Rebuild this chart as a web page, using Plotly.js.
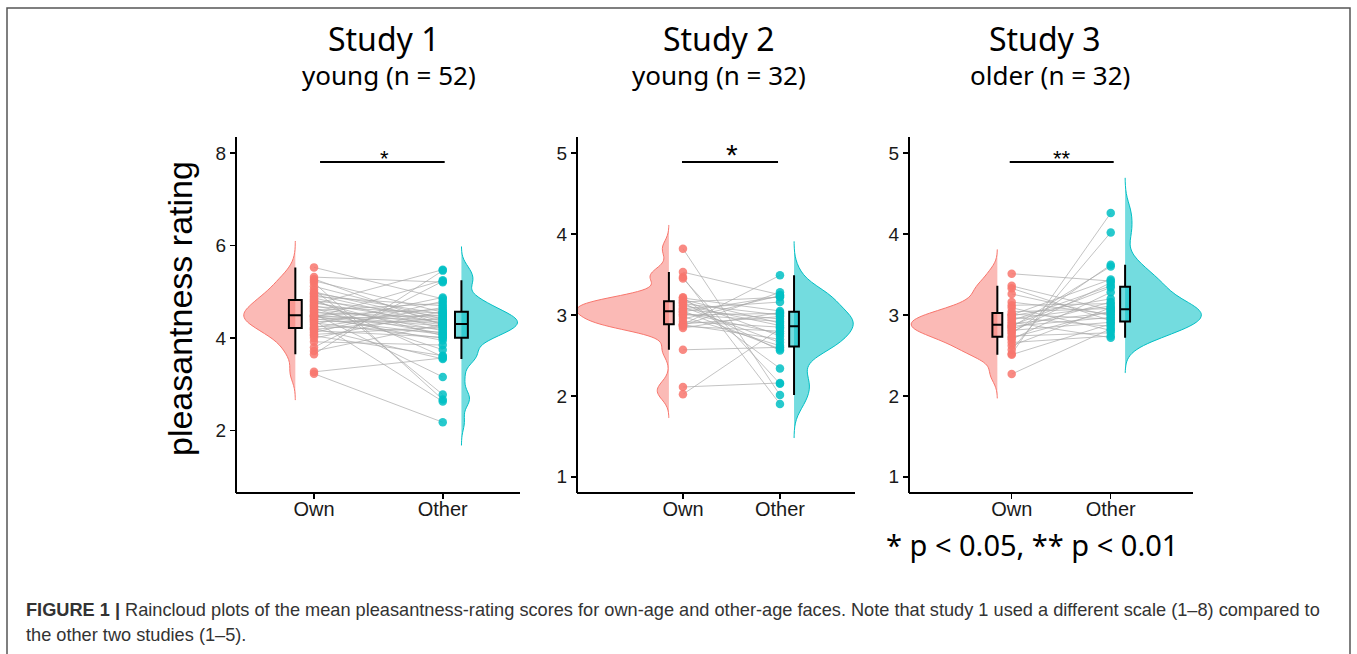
<!DOCTYPE html>
<html><head><meta charset="utf-8">
<script src="https://cdn.plot.ly/plotly-3.0.1.min.js"></script>
<style>html,body{margin:0;padding:0;background:#fff;}#chart{width:1357px;height:654px;}</style>
</head><body><div id="chart"></div>
<script>
// ---------- data ----------
const categories = ['Own', 'Other'];

const study1Own = [3.23,3.27,3.65,3.72,3.80,3.92,4.00,4.05,4.08,4.12,4.16,4.19,4.21,4.23,4.26,4.30,4.33,4.36,4.38,4.40,4.42,4.44,4.46,4.47,4.48,4.49,4.50,4.52,4.55,4.58,4.60,4.63,4.65,4.68,4.70,4.73,4.76,4.79,4.81,4.84,4.87,4.90,4.94,4.97,5.00,5.05,5.12,5.20,5.24,5.28,5.32,5.53];
const study1Other = [2.18,3.57,5.46,4.30,5.23,3.85,4.58,3.62,4.24,4.80,4.02,4.43,3.55,4.66,4.13,4.88,4.00,4.35,2.63,4.50,4.08,5.25,4.19,4.39,3.95,4.62,4.26,3.16,4.45,4.10,4.75,4.29,3.75,4.54,4.16,5.48,4.33,4.05,4.47,3.60,4.22,4.70,4.31,4.52,4.37,2.78,4.41,2.67,4.56,4.28,5.21,4.85];

const study2Own = [3.82,3.53,3.47,3.45,2.11,2.02,2.57,3.22,3.21,3.19,3.18,3.16,3.15,3.14,3.12,3.10,3.08,3.07,3.05,3.04,3.03,3.01,3.00,2.98,2.95,2.92,2.89,2.88,2.88,2.87,2.86,2.84];
const study2Other = [2.01,3.25,1.90,2.15,2.16,2.83,2.60,2.34,3.05,2.90,2.74,3.22,2.56,3.00,2.87,2.66,3.16,2.95,2.58,3.23,2.77,2.92,3.02,2.62,3.24,2.85,2.98,2.70,3.49,3.28,2.80,3.03];

const study3Own = [2.27,2.51,2.52,2.57,2.62,2.66,2.70,2.72,2.74,2.77,2.79,2.81,2.83,2.85,2.86,2.87,2.89,2.91,2.93,2.95,2.97,2.99,3.00,3.01,3.04,3.09,3.12,3.16,3.26,3.33,3.36,3.51];
const study3Other = [2.83,2.89,4.26,4.02,3.09,2.74,3.28,3.05,2.78,3.62,3.40,2.91,3.16,3.60,2.97,3.34,3.03,2.72,3.36,3.11,2.86,3.20,3.44,2.95,3.08,2.81,3.14,3.01,2.99,2.93,3.06,3.42];

const studyTitles = ['Study 1', 'Study 2', 'Study 3'];
const studySubtitles = ['young (n = 52)', 'young (n = 32)', 'older (n = 32)'];
const sigLabels = ['*', '*', '**'];
const yTicks1 = [2, 4, 6, 8];
const yTicks23 = [1, 2, 3, 4, 5];

// ---------- layout / style ----------
const W = 1357, H = 654;
const RED = '#F8766D', RED_FILL = 'rgba(248,118,109,0.5)';
const CYAN = '#00BFC4', CYAN_FILL = 'rgba(0,191,196,0.55)';
const OFF = 0.145;      // nudge of box/violin from the points
const BOXW = 0.1;
const Y_TOP = 137, Y_BOT = 493;

// px: [axis-line start, axis-line end, plotting-area end]
const panels = [
  {own: study1Own, other: study1Other, px: [237, 520, 524], xr: [0.402, 2.631], yr: [0.65, 8.35], yt: yTicks1,
   wOwn: 0.40, wOther: 0.435, bwOwn: 0.19, bwOther: 0.167,
   sig: {x0: 1.047, x1: 2.015, y: 7.81, tx: 384, ty: 158, size: 22},
   title: {x: 384, sx: 389}},
  {own: study2Own, other: study2Other, px: [578, 855, 860], xr: [-0.082, 2.825], yr: [0.8, 5.2], yt: yTicks23,
   wOwn: 0.95, wOther: 0.61, bwOwn: 0.097, bwOther: 0.14,
   sig: {x0: 0.99, x1: 1.98, y: 4.89, tx: 732, ty: 155, size: 30},
   title: {x: 719, sx: 719}},
  {own: study3Own, other: study3Other, px: [910, 1193, 1206], xr: [-0.027, 2.962], yr: [0.8, 5.2], yt: yTicks23,
   wOwn: 0.87, wOther: 0.77, bwOwn: 0.10, bwOther: 0.145,
   sig: {x0: 0.98, x1: 2.03, y: 4.89, tx: 1062, ty: 158, size: 22},
   title: {x: 1045, sx: 1050}}
];

const traces = [];
const layout = {
  width: W, height: H, margin: {l: 0, r: 0, t: 0, b: 0},
  paper_bgcolor: '#fff', plot_bgcolor: 'rgba(0,0,0,0)', showlegend: false,
  font: {family: 'Liberation Sans, Arial, sans-serif', color: '#1a1a1a'},
  violinmode: 'overlay', boxmode: 'overlay',
  shapes: [], annotations: []
};

panels.forEach((p, i) => {
  const n = i + 1;
  const xa = n === 1 ? 'x' : 'x' + n;
  const ya = n === 1 ? 'y' : 'y' + n;
  const ownPos = 1, otherPos = 2;
  const span = (d, bw) => [Math.min(...d) - 3 * bw, Math.max(...d) + 3 * bw];

  // half violins
  traces.push({type: 'violin', x0: ownPos - OFF, y: p.own, side: 'negative', width: 2 * p.wOwn,
    bandwidth: p.bwOwn, spanmode: 'manual', span: span(p.own, p.bwOwn), scalemode: 'width',
    line: {color: RED, width: 1}, fillcolor: RED_FILL, points: false,
    box: {visible: false}, meanline: {visible: false}, hoverinfo: 'skip', xaxis: xa, yaxis: ya});
  traces.push({type: 'violin', x0: otherPos + OFF, y: p.other, side: 'positive', width: 2 * p.wOther,
    bandwidth: p.bwOther, spanmode: 'manual', span: span(p.other, p.bwOther), scalemode: 'width',
    line: {color: CYAN, width: 1}, fillcolor: CYAN_FILL, points: false,
    box: {visible: false}, meanline: {visible: false}, hoverinfo: 'skip', xaxis: xa, yaxis: ya});

  // boxes
  [[p.own, ownPos - OFF, RED_FILL], [p.other, otherPos + OFF, CYAN_FILL]].forEach(([d, pos, fc]) => {
    traces.push({type: 'box', x0: pos, y: d, width: BOXW, fillcolor: fc,
      line: {color: '#000', width: 2}, whiskerwidth: 0, boxpoints: 'outliers',
      marker: {opacity: 0, size: 1}, hoverinfo: 'skip', xaxis: xa, yaxis: ya});
  });

  // paired lines
  const lx = [], ly = [];
  p.own.forEach((v, k) => { lx.push(ownPos, otherPos, null); ly.push(v, p.other[k], null); });
  traces.push({type: 'scatter', mode: 'lines', x: lx, y: ly, line: {color: 'rgba(170,170,170,0.7)', width: 1},
    hoverinfo: 'skip', xaxis: xa, yaxis: ya});

  // points
  traces.push({type: 'scatter', mode: 'markers', x: p.own.map(() => ownPos), y: p.own,
    marker: {color: RED, size: 8.5, opacity: 0.85}, hoverinfo: 'skip', xaxis: xa, yaxis: ya});
  traces.push({type: 'scatter', mode: 'markers', x: p.other.map(() => otherPos), y: p.other,
    marker: {color: CYAN, size: 8.5, opacity: 0.85}, hoverinfo: 'skip', xaxis: xa, yaxis: ya});

  const axCommon = {ticks: 'outside', ticklen: 5, tickwidth: 1.5, tickcolor: '#000',
    showgrid: false, zeroline: false, fixedrange: true};
  layout['xaxis' + (n === 1 ? '' : n)] = Object.assign({}, axCommon, {
    showline: false,
    domain: [p.px[0] / W, p.px[2] / W], range: p.xr, type: 'linear',
    tickvals: [ownPos, otherPos], ticktext: categories, anchor: ya,
    tickfont: {size: 20, color: '#1a1a1a'}, ticklabelstandoff: -7});
  layout['yaxis' + (n === 1 ? '' : n)] = Object.assign({}, axCommon, {
    showline: true, linecolor: '#000', linewidth: 2,
    domain: [1 - Y_BOT / H, 1 - Y_TOP / H], range: p.yr, tickvals: p.yt, anchor: xa,
    tickfont: {size: 19, color: '#1a1a1a'}, ticklabelstandoff: 0});

  // x axis line (ends before the plotting area so a violin may overhang, as in the reference)
  layout.shapes.push({type: 'line', xref: 'paper', yref: 'paper', x0: (p.px[0] - 1) / W, x1: p.px[1] / W,
    y0: 1 - Y_BOT / H, y1: 1 - Y_BOT / H, line: {color: '#000', width: 2}});

  // significance
  layout.shapes.push({type: 'line', xref: xa, yref: ya, x0: p.sig.x0, x1: p.sig.x1, y0: p.sig.y, y1: p.sig.y,
    line: {color: '#000', width: 2}});
  layout.annotations.push({xref: 'paper', yref: 'paper', x: p.sig.tx / W, y: 1 - p.sig.ty / H,
    text: sigLabels[i], showarrow: false, xanchor: 'center', yanchor: 'middle',
    font: {size: p.sig.size, color: '#000'}});

  // titles
  layout.annotations.push({xref: 'paper', yref: 'paper', x: p.title.x / W, y: 1 - 39 / H,
    text: studyTitles[i], showarrow: false, xanchor: 'center', yanchor: 'middle',
    font: {family: 'Noto Sans, Open Sans, sans-serif', size: 32, color: '#000'}});
  layout.annotations.push({xref: 'paper', yref: 'paper', x: p.title.sx / W, y: 1 - 75 / H,
    text: studySubtitles[i], showarrow: false, xanchor: 'center', yanchor: 'middle',
    font: {family: 'Noto Sans, Open Sans, sans-serif', size: 26, color: '#000'}});
});

// y-axis title (panel 1)
layout.annotations.push({xref: 'paper', yref: 'paper', x: 180 / W, y: 1 - 309 / H,
  text: 'pleasantness rating', textangle: -90, showarrow: false, xanchor: 'center', yanchor: 'middle',
  font: {size: 34, color: '#000'}});

// footnote
layout.annotations.push({xref: 'paper', yref: 'paper', x: 1032 / W, y: 1 - 544 / H,
  text: '* p &lt; 0.05, ** p &lt; 0.01', showarrow: false, xanchor: 'center', yanchor: 'middle',
  font: {family: 'Noto Sans, Open Sans, sans-serif', size: 29, color: '#000'}});

// caption
layout.annotations.push({xref: 'paper', yref: 'paper', x: 24 / W, y: 1 - 610 / H,
  text: '<b>FIGURE 1 |</b> Raincloud plots of the mean pleasantness-rating scores for own-age and other-age faces. Note that study 1 used a different scale (1–8) compared to',
  showarrow: false, xanchor: 'left', yanchor: 'middle', font: {size: 18.2, color: '#333'}});
layout.annotations.push({xref: 'paper', yref: 'paper', x: 24 / W, y: 1 - 635 / H,
  text: 'the other two studies (1–5).',
  showarrow: false, xanchor: 'left', yanchor: 'middle', font: {size: 18.2, color: '#333'}});

// frame
layout.shapes.push({type: 'rect', xref: 'paper', yref: 'paper', x0: 7 / W, x1: 1350 / W, y0: -0.05, y1: 1 - 8 / H,
  line: {color: '#555', width: 1.5}, fillcolor: 'rgba(0,0,0,0)'});

Plotly.newPlot('chart', traces, layout, {displayModeBar: false, staticPlot: true});
</script></body></html>
